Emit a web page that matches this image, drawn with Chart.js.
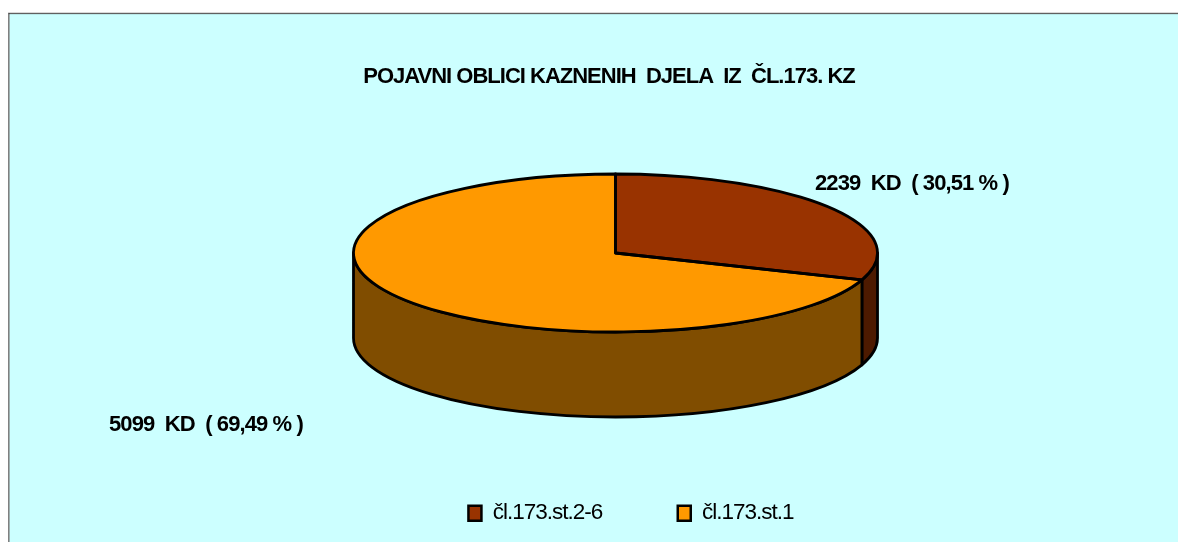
<!DOCTYPE html>
<html><head><meta charset="utf-8">
<style>html,body{margin:0;padding:0;background:#fff}canvas{display:block}</style>
<script src="https://cdn.jsdelivr.net/npm/chart.js@4"></script>
</head><body><canvas id="c" width="1178" height="542"></canvas>
<script>
const categories = ['čl.173.st.2-6', 'čl.173.st.1'];
const values = [2239, 5099];
const percents = ['30,51', '69,49'];
const topColors = ['#993300', '#FF9900'];
const sideColors = ['#4D1A00', '#804D00'];
const titleText = 'POJAVNI OBLICI KAZNENIH  DJELA  IZ  ČL.173. KZ';

const PIE = {cx: 615.5, cy: 253, rx: 262, ry: 79, depth: 85, line: 2.8};
const LABEL = {font: 'bold 22px "Liberation Sans"', spacing: '-0.9px', pos: [[815, 190], [109, 431]]};
const TITLE_SPACING = '-1px';
const LEGEND_PAD = 75.5;

const pie3d = {
  id: 'pie3d',
  afterLayout(chart) {
    const t = chart.titleBlock, l = chart.legend;
    t.left += 20; t.right += 20;
    l.left += 54; l.right += 54;
    const dy = 513 - (l.top + LEGEND_PAD + 11);
    l.top += dy; l.bottom += dy;
  },
  beforeDraw(chart) {
    const c = chart.ctx;
    c.save();
    c.fillStyle = '#fff'; c.fillRect(0, 0, 1178, 542);
    c.fillStyle = '#CCFFFF'; c.fillRect(9, 14, 1169, 528);
    c.fillStyle = '#808080'; c.fillRect(8, 12.7, 1170, 0.8); c.fillRect(8, 13, 1.6, 529);
    c.fillStyle = '#222'; c.fillRect(8.6, 13.4, 1170, 0.7);
    c.restore();
    c.letterSpacing = TITLE_SPACING;
  },
  beforeDatasetsDraw(chart) {
    const c = chart.ctx, arcs = chart.getDatasetMeta(0).data;
    c.letterSpacing = '0px';
    c.save();
    c.lineWidth = PIE.line; c.strokeStyle = '#000'; c.lineJoin = 'round';
    arcs.forEach((a, i) => {
      const s = Math.max(a.startAngle, 0), e = Math.min(a.endAngle, Math.PI);
      if (e <= s) return;
      c.beginPath();
      c.ellipse(PIE.cx, PIE.cy, PIE.rx, PIE.ry, 0, s, e);
      c.ellipse(PIE.cx, PIE.cy + PIE.depth, PIE.rx, PIE.ry, 0, e, s, true);
      c.closePath();
      c.fillStyle = sideColors[i];
      c.fill(); c.stroke();
    });
    c.restore();
    const a0 = arcs[0];
    c.save();
    c.translate(PIE.cx, PIE.cy);
    c.scale(PIE.rx / a0.outerRadius, PIE.ry / a0.outerRadius);
    c.translate(-a0.x, -a0.y);
  },
  afterDatasetsDraw(chart) {
    const c = chart.ctx, arcs = chart.getDatasetMeta(0).data;
    c.restore();
    c.save();
    c.lineWidth = PIE.line; c.strokeStyle = '#000'; c.lineJoin = 'round';
    arcs.forEach(a => {
      c.beginPath();
      c.moveTo(PIE.cx, PIE.cy);
      c.ellipse(PIE.cx, PIE.cy, PIE.rx, PIE.ry, 0, a.startAngle, a.endAngle);
      c.closePath();
      c.stroke();
    });
    c.fillStyle = '#000'; c.font = LABEL.font; c.letterSpacing = LABEL.spacing;
    c.textAlign = 'left'; c.textBaseline = 'alphabetic';
    values.forEach((v, i) => {
      c.fillText(v + '  KD  ( ' + percents[i] + ' % )', LABEL.pos[i][0], LABEL.pos[i][1]);
    });
    c.restore();
  }
};

new Chart(document.getElementById('c'), {
  type: 'pie',
  data: {labels: categories, datasets: [{data: values, backgroundColor: topColors, borderWidth: 0}]},
  plugins: [pie3d],
  options: {
    responsive: false, animation: false, devicePixelRatio: 1,
    plugins: {
      tooltip: {enabled: false},
      title: {
        display: true, text: titleText, color: '#000',
        font: {family: '"Liberation Sans"', size: 22, weight: 'bold'},
        padding: {top: 64, bottom: 10}
      },
      legend: {
        display: true, position: 'bottom', fullSize: true, z: 1,
        labels: {
          color: '#000', font: {family: '"Liberation Sans"', size: 22.5},
          boxWidth: 13, boxHeight: 15, padding: LEGEND_PAD,
          generateLabels: ch => categories.map((t, i) => ({
            text: t, fillStyle: topColors[i], strokeStyle: '#000', lineWidth: 2.5, fontColor: '#000', index: i, hidden: false
          }))
        }
      }
    }
  }
});
</script></body></html>
